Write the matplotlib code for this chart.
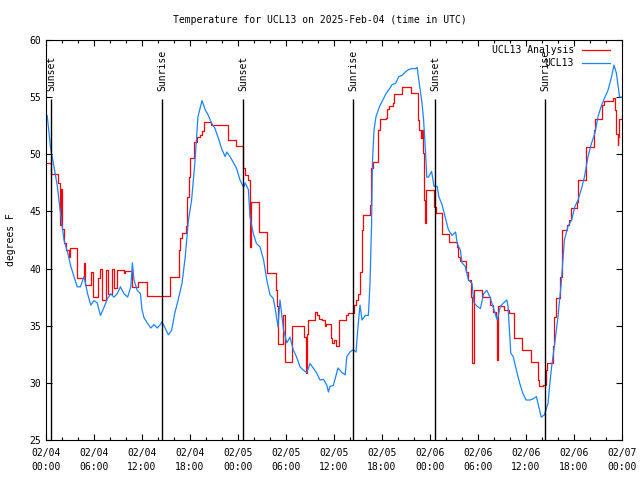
import matplotlib
matplotlib.use("Agg")
import matplotlib.pyplot as plt
import matplotlib.dates as mdates
import numpy as np
import pandas as pd

plt.rc('font', family='DejaVu Sans Mono', size=7)

# hours after 2025-02-04 00:00 UTC
obs_hours = [0.0, 0.15, 0.58, 1.0, 1.4, 1.8, 2.25, 2.7, 3.1, 3.5, 3.9, 4.3, 4.75, 5.2, 5.6,
             6.0, 6.4, 6.8, 7.25, 7.7, 8.1, 8.5, 8.9, 9.3, 9.75, 10.2, 10.6, 10.8, 11.0,
             11.4, 11.8, 12.0, 12.25, 12.7, 13.1, 13.5, 13.9, 14.3, 14.5, 15.3, 15.7,
             16.1, 16.5, 17.0, 17.4, 17.8, 18.2, 18.6, 19.0, 19.5, 19.9, 20.3, 20.7,
             21.1, 21.5, 22.0, 22.4, 22.6, 23.0, 23.4, 23.8, 24.25, 24.7, 24.9, 25.3,
             25.5, 25.9, 26.3, 26.75, 27.2, 27.6, 28.0, 28.4, 28.6, 28.8, 29.0, 29.25,
             29.7, 30.1, 30.5, 30.9, 31.3, 31.75, 32.2, 32.6, 33.0, 33.4, 33.8, 34.25,
             34.7, 35.1, 35.3, 35.5, 35.9, 36.1, 36.5, 37.0, 37.4, 37.6, 38.0, 38.4,
             38.75, 39.0, 39.25, 39.5, 39.9, 40.3, 40.5, 40.7, 40.8, 41.0, 41.25, 41.7,
             42.1, 42.5, 43.1, 43.25, 43.7, 44.1, 44.5, 44.9, 45.3, 45.75, 46.2, 46.4,
             46.6, 47.0, 47.2, 47.4, 47.6, 47.8, 48.2, 48.5, 48.9, 49.1, 49.5, 49.9,
             50.3, 50.75, 51.2, 51.4, 51.8, 52.0, 52.4, 52.6, 52.8, 53.25, 53.5, 53.9,
             54.3, 54.7, 55.1, 55.5, 56.0, 56.4, 56.8, 57.2, 57.6, 57.75, 57.9, 58.1,
             58.4, 58.8, 59.2, 59.6, 60.0, 60.5, 60.9, 61.3, 61.5, 61.9, 62.3, 62.75,
             62.95, 63.2, 63.6, 64.0, 64.4, 64.8, 65.25, 65.7, 66.1, 66.5, 66.9, 67.3,
             67.75, 68.2, 68.6, 69.0, 69.4, 69.8, 70.25, 70.7, 71.0, 71.3, 71.7, 72.0]
obs_temp = [53.5, 53.4, 50.5, 48.9, 47.3, 44.9, 42.5, 41.4, 40.2, 39.3, 38.4, 38.4, 39.3, 37.8, 36.8,
            37.2, 37.0, 35.9, 36.6, 37.4, 37.8, 37.5, 37.8, 38.4, 37.8, 37.5, 38.4, 40.5, 39.0,
            38.1, 37.8, 36.4, 35.7, 35.2, 34.8, 35.1, 34.8, 35.1, 35.35, 34.2, 34.6,
            36.1, 37.2, 38.7, 41.0, 44.2, 46.0, 49.2, 53.3, 54.7, 53.9, 53.4, 52.7,
            52.3, 51.5, 50.4, 49.8, 50.2, 49.8, 49.3, 48.8, 47.75, 47.1, 47.5, 46.9,
            44.5, 43.1, 42.2, 41.9, 40.75, 39.0, 37.7, 37.4, 36.7, 35.8, 34.9, 37.25,
            34.6, 33.5, 34.0, 32.9, 32.3, 31.4, 31.1, 30.9, 31.7, 31.3, 30.9, 30.25,
            30.3, 29.8, 29.2, 29.7, 29.75, 30.25, 31.3, 30.9, 30.7, 32.3, 32.7, 32.9,
            32.7, 34.9, 36.8, 35.5, 35.9, 35.9, 38.7, 44.0, 49.2, 52.1, 53.3, 54.2,
            54.75, 55.3, 55.9, 56.1, 56.2, 56.8, 56.9, 57.2, 57.4, 57.5, 57.5, 57.6,
            56.5, 54.5, 53.0, 50.7, 48.0, 48.0, 48.5, 47.2, 47.2, 46.3, 45.6, 44.5,
            43.4, 42.9, 43.2, 42.2, 41.6, 40.5, 40.2, 39.6, 39.0, 38.7, 37.0, 36.7,
            36.5, 37.8, 38.1, 37.5, 36.4, 35.5, 36.7, 37.0, 37.25, 36.7, 34.9, 32.6,
            32.3, 31.1, 30.0, 29.1, 28.5, 28.5, 28.6, 28.8, 28.2, 27.0, 27.2, 28.2,
            29.7, 31.4, 33.5, 35.8, 38.7, 42.5, 43.7, 44.25, 45.4, 46.0, 46.9, 48.0,
            49.8, 51.0, 51.8, 53.3, 54.2, 54.9, 55.6, 56.8, 57.8, 57.1, 55.0, 55.0]

# analysis: value holds from each time until the next one
ana_hours = [0.0, 0.67, 1.55, 1.7, 1.85, 1.95, 2.05, 2.25, 2.45, 2.9, 3.0, 3.9, 4.7, 4.9,
             5.6, 5.9, 6.55, 6.75, 6.95, 7.55, 7.75, 8.25, 8.5, 8.85, 9.7, 9.9, 10.75,
             11.5, 12.6, 15.55, 16.6, 16.8, 17.05, 17.45, 17.6, 17.85, 18.05, 18.5,
             18.85, 19.2, 19.45, 19.7, 20.65, 22.75, 23.75, 24.6, 24.85, 25.3, 25.45,
             25.6, 26.6, 27.6, 28.7, 28.85, 29.0, 29.65, 29.9, 30.7, 32.25, 32.45, 32.6,
             32.75, 33.65, 33.85, 34.1, 34.5, 34.85, 35.05, 35.6, 35.75, 36.0, 36.2,
             36.6, 37.5, 37.75, 38.45, 38.7, 38.95, 39.25, 39.45, 39.6, 40.45, 40.65,
             40.85, 41.55, 41.7, 42.45, 42.65, 42.85, 43.35, 43.5, 44.5, 45.6, 46.45,
             46.65, 46.85, 47.05, 47.15, 47.25, 47.35, 47.45, 47.55, 48.55, 48.7, 49.55,
             50.35, 51.35, 51.55, 51.75, 52.45, 52.7, 53.1, 53.22, 53.3, 53.45, 54.55,
             55.55, 55.9, 56.2, 56.35, 56.42, 56.55, 57.3, 57.85, 58.55, 59.55, 60.65,
             61.45, 61.6, 62.15, 62.45, 62.6, 63.35, 63.55, 63.75, 64.3, 64.45, 64.55,
             65.1, 65.4, 65.6, 66.35, 66.55, 67.5, 68.45, 68.65, 69.5, 69.7, 70.85,
             71.15, 71.3, 71.45, 71.55, 71.65, 72.0]
ana_temp = [49.2, 48.25, 47.5, 43.8, 47.0, 44.5, 43.5, 42.2, 41.6, 41.0, 41.8, 39.2, 40.5, 38.55,
            39.7, 37.5, 39.2, 40.0, 37.25, 39.9, 37.8, 40.0, 38.3, 39.9, 39.6, 39.8, 38.4,
            38.85, 37.6, 39.3, 41.6, 42.65, 43.1, 43.7, 46.3, 48.0, 49.7, 51.1,
            51.5, 51.7, 52.0, 52.85, 52.6, 51.25, 50.7, 48.8, 48.2, 47.75, 41.9,
            45.8, 43.2, 39.6, 38.1, 36.7, 33.4, 35.9, 31.85, 35.0, 34.05, 30.9, 34.3,
            35.5, 36.2, 35.9, 35.6, 35.5, 35.0, 35.15, 33.9, 33.5, 33.75, 33.2,
            35.5, 35.9, 36.1, 36.8, 37.25, 37.8, 39.7, 43.4, 44.7, 45.6, 48.8,
            49.35, 52.1, 53.1, 53.2, 54.0, 54.2, 54.5, 55.3, 55.9, 55.4, 53.0,
            52.1, 51.4, 52.1, 50.1, 46.0, 44.0, 46.0, 46.9, 45.4, 44.9, 43.0,
            42.35, 41.9, 41.0, 40.7, 39.7, 39.0, 37.5, 33.5, 31.7, 38.1, 37.5,
            36.8, 36.2, 35.8, 33.2, 32.0, 36.7, 36.4, 36.1, 33.9, 32.9, 31.85,
            30.25, 29.7, 29.8, 31.1, 31.7, 33.2, 35.8, 37.4, 39.3, 41.5, 43.4,
            43.8, 44.25, 45.3, 45.85, 47.75, 50.6, 52.1, 53.1, 54.3, 54.7, 54.9,
            53.9, 51.8, 50.8, 51.5, 53.1, 53.25]

sun_hours = [0.68, 14.5, 24.68, 38.42, 48.68, 62.42]
sun_labels = ['Sunset', 'Sunrise', 'Sunset', 'Sunrise', 'Sunset', 'Sunrise']

start = pd.Timestamp('2025-02-04 00:00')
to_time = lambda h: start + pd.to_timedelta(np.asarray(h), unit='h')

fig = plt.figure(figsize=(6.4, 4.8), dpi=100)
ax = fig.add_axes([46/640, 40/480, 576/640, 400/480])

ax.plot(to_time(ana_hours), ana_temp, color='#ff0000', lw=0.9, drawstyle='steps-post')
ax.plot(to_time(obs_hours), obs_temp, color='#1a84ff', lw=0.9)

for h, lab in zip(sun_hours, sun_labels):
    t = to_time([h])[0]
    ax.vlines(t, 25, 54.85, color='black', lw=1.0)
    ax.text(t, 55.5, lab, rotation=90, ha='center', va='bottom')

ax.set_xlim(start, start + pd.Timedelta(hours=72))
ax.set_ylim(25, 60)
ax.set_yticks(np.arange(25, 61, 5))
ax.xaxis.set_major_locator(mdates.HourLocator(byhour=range(0, 24, 6)))
ax.xaxis.set_minor_locator(mdates.HourLocator(byhour=range(0, 24, 2)))
ax.xaxis.set_major_formatter(mdates.DateFormatter('%m/%d\n%H:%M'))
ax.tick_params(which='both', direction='in', top=True, right=True, width=0.8)
ax.tick_params(which='major', length=4.5)
ax.tick_params(which='minor', length=2.5)
ax.tick_params(axis='x', pad=6)
for lbl in ax.get_xticklabels():
    lbl.set_linespacing(1.5)
for s in ax.spines.values():
    s.set_linewidth(0.8)

fig.text(11/640, 0.5, 'degrees F', rotation=90, ha='center', va='center')
fig.text(0.5, 1 - 20/480, 'Temperature for UCL13 on 2025-Feb-04 (time in UTC)',
         ha='center', va='center')

# legend, gnuplot style: label left of the sample line
for name, col, yy in [('UCL13 Analysis', '#ff0000', 0.975), ('UCL13', '#1a84ff', 0.9425)]:
    ax.text(0.9167, yy, name, transform=ax.transAxes, ha='right', va='center')
    ax.plot([0.9306, 0.979], [yy, yy], color=col, lw=0.9, transform=ax.transAxes)

plt.savefig('out.png', dpi=100)
